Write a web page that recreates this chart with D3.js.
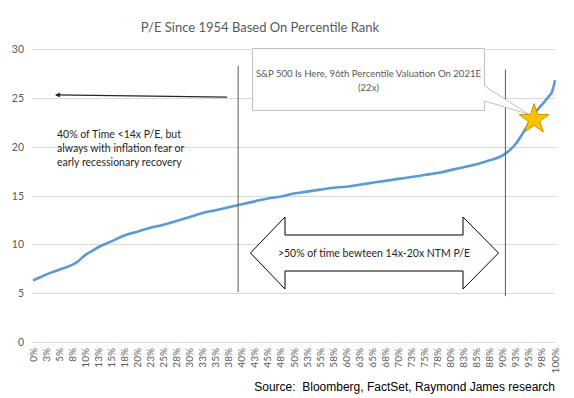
<!DOCTYPE html>
<html>
<head>
<meta charset="utf-8">
<script src="https://cdn.jsdelivr.net/npm/d3@7"></script>
<style>
  body { margin: 0; background: #fff; }
  svg { display: block; }
</style>
</head>
<body>
<script>
// percentile rank (%) and forward P/E
var pctRank = [0, 1.25, 2.5, 5, 7.5, 8.5, 10, 11.25, 12.5, 15, 17.5, 20, 22.5, 25, 27.5, 30, 32.5, 35, 37.5, 40,
    42.5, 45, 47.5, 50, 52.5, 55, 57.5, 60, 62.5, 65, 67.5, 70, 72.5, 75, 77.5, 80, 82.5, 85, 87.5, 90,
    91.25, 92.5, 93.75, 95, 96.25, 97.5, 98.75, 99.5, 100];
var peValues = [6.3, 6.6, 6.9, 7.4, 7.9, 8.2, 8.9, 9.3, 9.7, 10.3, 10.9, 11.3, 11.7, 12.0, 12.4, 12.8, 13.2, 13.5, 13.8, 14.1,
    14.4, 14.7, 14.9, 15.2, 15.4, 15.6, 15.8, 15.9, 16.1, 16.3, 16.5, 16.7, 16.9, 17.1, 17.3, 17.6, 17.9, 18.2, 18.6, 19.1,
    19.6, 20.3, 21.3, 22.4, 23.5, 24.3, 25.1, 25.7, 26.8];

// category labels Excel shows along the bottom
var xTickLabels = ['0%', '3%', '5%', '8%', '10%', '13%', '15%', '18%', '20%', '23%', '25%', '28%', '30%', '33%',
    '35%', '38%', '40%', '43%', '45%', '48%', '50%', '53%', '55%', '58%', '60%', '63%', '65%', '68%', '70%',
    '73%', '75%', '78%', '80%', '83%', '85%', '88%', '90%', '93%', '95%', '98%', '100%'];
var xTickPct = xTickLabels.map(function(d, i){ return i * 2.5; });
var yTicks = [0, 5, 10, 15, 20, 25, 30];

// annotations
var sp500Pct = 96;
var sp500PE = 22.9;
var bandLines = [39.3, 90.5];

var w = 574;
var h = 398;
var lineColor = '#5b9bd5';
var textGray = '#595959';
var calibri = 'Lato, Carlito, Calibri, sans-serif';

var svg = d3.select('body')
    .append('svg')
    .attr('width', w)
    .attr('height', h);

var x = d3.scaleLinear().domain([0, 100]).range([33, 555]);
var y = d3.scaleLinear().domain([0, 30]).range([342, 49]);

// title
svg.append('text')
    .attr('x', 260)
    .attr('y', 32)
    .attr('text-anchor', 'middle')
    .attr('font-family', calibri)
    .attr('font-size', '13px')
    .attr('fill', textGray)
    .text('P/E Since 1954 Based On Percentile Rank');

// gridlines + y labels
svg.append('g')
    .selectAll('line')
    .data(yTicks)
    .enter()
    .append('line')
    .attr('x1', x(0) - 1)
    .attr('x2', x(100))
    .attr('y1', function(d){ return Math.round(y(d)) + 0.5; })
    .attr('y2', function(d){ return Math.round(y(d)) + 0.5; })
    .attr('stroke', '#d9d9d9')
    .attr('stroke-width', 1);

svg.append('g')
    .selectAll('text')
    .data(yTicks)
    .enter()
    .append('text')
    .attr('x', 24)
    .attr('y', function(d){ return y(d) + 4; })
    .attr('text-anchor', 'end')
    .attr('font-family', calibri)
    .attr('font-size', '10.5px')
    .attr('fill', textGray)
    .text(function(d){ return d; });

// x labels, rotated
svg.append('g')
    .selectAll('text')
    .data(xTickLabels)
    .enter()
    .append('text')
    .attr('transform', function(d, i){
        return 'translate(' + (x(xTickPct[i]) + 3.5) + ',348) rotate(-90)';
})
    .attr('text-anchor', 'end')
    .attr('font-family', calibri)
    .attr('font-size', '10px')
    .attr('fill', textGray)
    .text(function(d){ return d; });

// the P/E curve
var line = d3.line()
    .x(function(d, i){ return x(pctRank[i]); })
    .y(function(d){ return y(d); })
    .curve(d3.curveMonotoneX);

svg.append('path')
    .datum(peValues)
    .attr('d', line)
    .attr('fill', 'none')
    .attr('stroke', lineColor)
    .attr('stroke-width', 2.6)
    .attr('stroke-linejoin', 'round');

// vertical band lines
svg.append('line')
    .attr('x1', x(bandLines[0])).attr('x2', x(bandLines[0]))
    .attr('y1', y(28.3)).attr('y2', y(5.1))
    .attr('stroke', '#595959').attr('stroke-width', 1);
svg.append('line')
    .attr('x1', x(bandLines[1])).attr('x2', x(bandLines[1]))
    .attr('y1', y(27.9)).attr('y2', y(4.7))
    .attr('stroke', '#595959').attr('stroke-width', 1);

// left arrow
svg.append('defs')
    .append('marker')
    .attr('id', 'head')
    .attr('viewBox', '0 0 10 10')
    .attr('refX', 8).attr('refY', 5)
    .attr('markerWidth', 7).attr('markerHeight', 5)
    .attr('orient', 'auto')
    .attr('markerUnits', 'userSpaceOnUse')
    .append('path')
    .attr('d', 'M0,0 L10,5 L0,10 z')
    .attr('fill', '#262626');

svg.append('line')
    .attr('x1', x(37.2)).attr('y1', y(25.07))
    .attr('x2', x(4.4)).attr('y2', y(25.3))
    .attr('stroke', '#262626')
    .attr('stroke-width', 1.1)
    .attr('marker-end', 'url(#head)');

// left note
var note = ['40% of Time <14x P/E, but', 'always with inflation fear or', 'early recessionary recovery'];
svg.append('g')
    .selectAll('text')
    .data(note)
    .enter()
    .append('text')
    .attr('x', 57)
    .attr('y', function(d, i){ return 137.5 + i * 14.2; })
    .attr('font-family', calibri)
    .attr('font-size', '10.5px')
    .attr('fill', '#262626')
    .text(function(d){ return d; });

// double headed arrow
var ax0 = 250.5, ax1 = 498.5, hb0 = 285, hb1 = 463;
var ay = 253, shaft = 18, head = 36;
var arrowPath = 'M' + ax0 + ',' + ay +
    ' L' + hb0 + ',' + (ay - head) + ' L' + hb0 + ',' + (ay - shaft) +
    ' L' + hb1 + ',' + (ay - shaft) + ' L' + hb1 + ',' + (ay - head) +
    ' L' + ax1 + ',' + ay +
    ' L' + hb1 + ',' + (ay + head) + ' L' + hb1 + ',' + (ay + shaft) +
    ' L' + hb0 + ',' + (ay + shaft) + ' L' + hb0 + ',' + (ay + head) + ' Z';
svg.append('path')
    .attr('d', arrowPath)
    .attr('fill', '#fff')
    .attr('stroke', '#000')
    .attr('stroke-width', 1);

svg.append('text')
    .attr('x', 374)
    .attr('y', 257)
    .attr('text-anchor', 'middle')
    .attr('font-family', calibri)
    .attr('font-size', '10.5px')
    .attr('fill', '#262626')
    .text('>50% of time bewteen 14x-20x NTM P/E');

// callout box pointing at the star
var starX = x(sp500Pct), starY = y(sp500PE);
svg.append('path')
    .attr('d', 'M252.5,48.5 L484.5,48.5 L484.5,86 L' + (starX - 5) + ',' + (starY - 4) +
        ' L484.5,101 L484.5,110.5 L252.5,110.5 Z')
    .attr('fill', '#fff')
    .attr('stroke', '#bfbfbf')
    .attr('stroke-width', 1);

svg.append('text')
    .attr('x', 368.5)
    .attr('y', 77)
    .attr('text-anchor', 'middle')
    .attr('font-family', calibri)
    .attr('font-size', '9.6px')
    .attr('fill', textGray)
    .text('S&P 500 Is Here, 96th Percentile Valuation On 2021E');
svg.append('text')
    .attr('x', 368.5)
    .attr('y', 90.5)
    .attr('text-anchor', 'middle')
    .attr('font-family', calibri)
    .attr('font-size', '9.6px')
    .attr('fill', textGray)
    .text('(22x)');

// star marker
svg.append('path')
    .attr('d', d3.symbol().type(d3.symbolStar).size(280)())
    .attr('transform', 'translate(' + starX + ',' + (starY + 1) + ')')
    .attr('fill', '#ffc000')
    .attr('stroke', '#c99700')
    .attr('stroke-width', 1);

// source
svg.append('text')
    .attr('x', 555)
    .attr('y', 391)
    .attr('text-anchor', 'end')
    .attr('font-family', 'Liberation Sans, Arial, sans-serif')
    .attr('font-size', '12px')
    .attr('fill', '#000')
    .style('white-space', 'pre')
    .text('Source:  Bloomberg, FactSet, Raymond James research');
</script>
</body>
</html>
